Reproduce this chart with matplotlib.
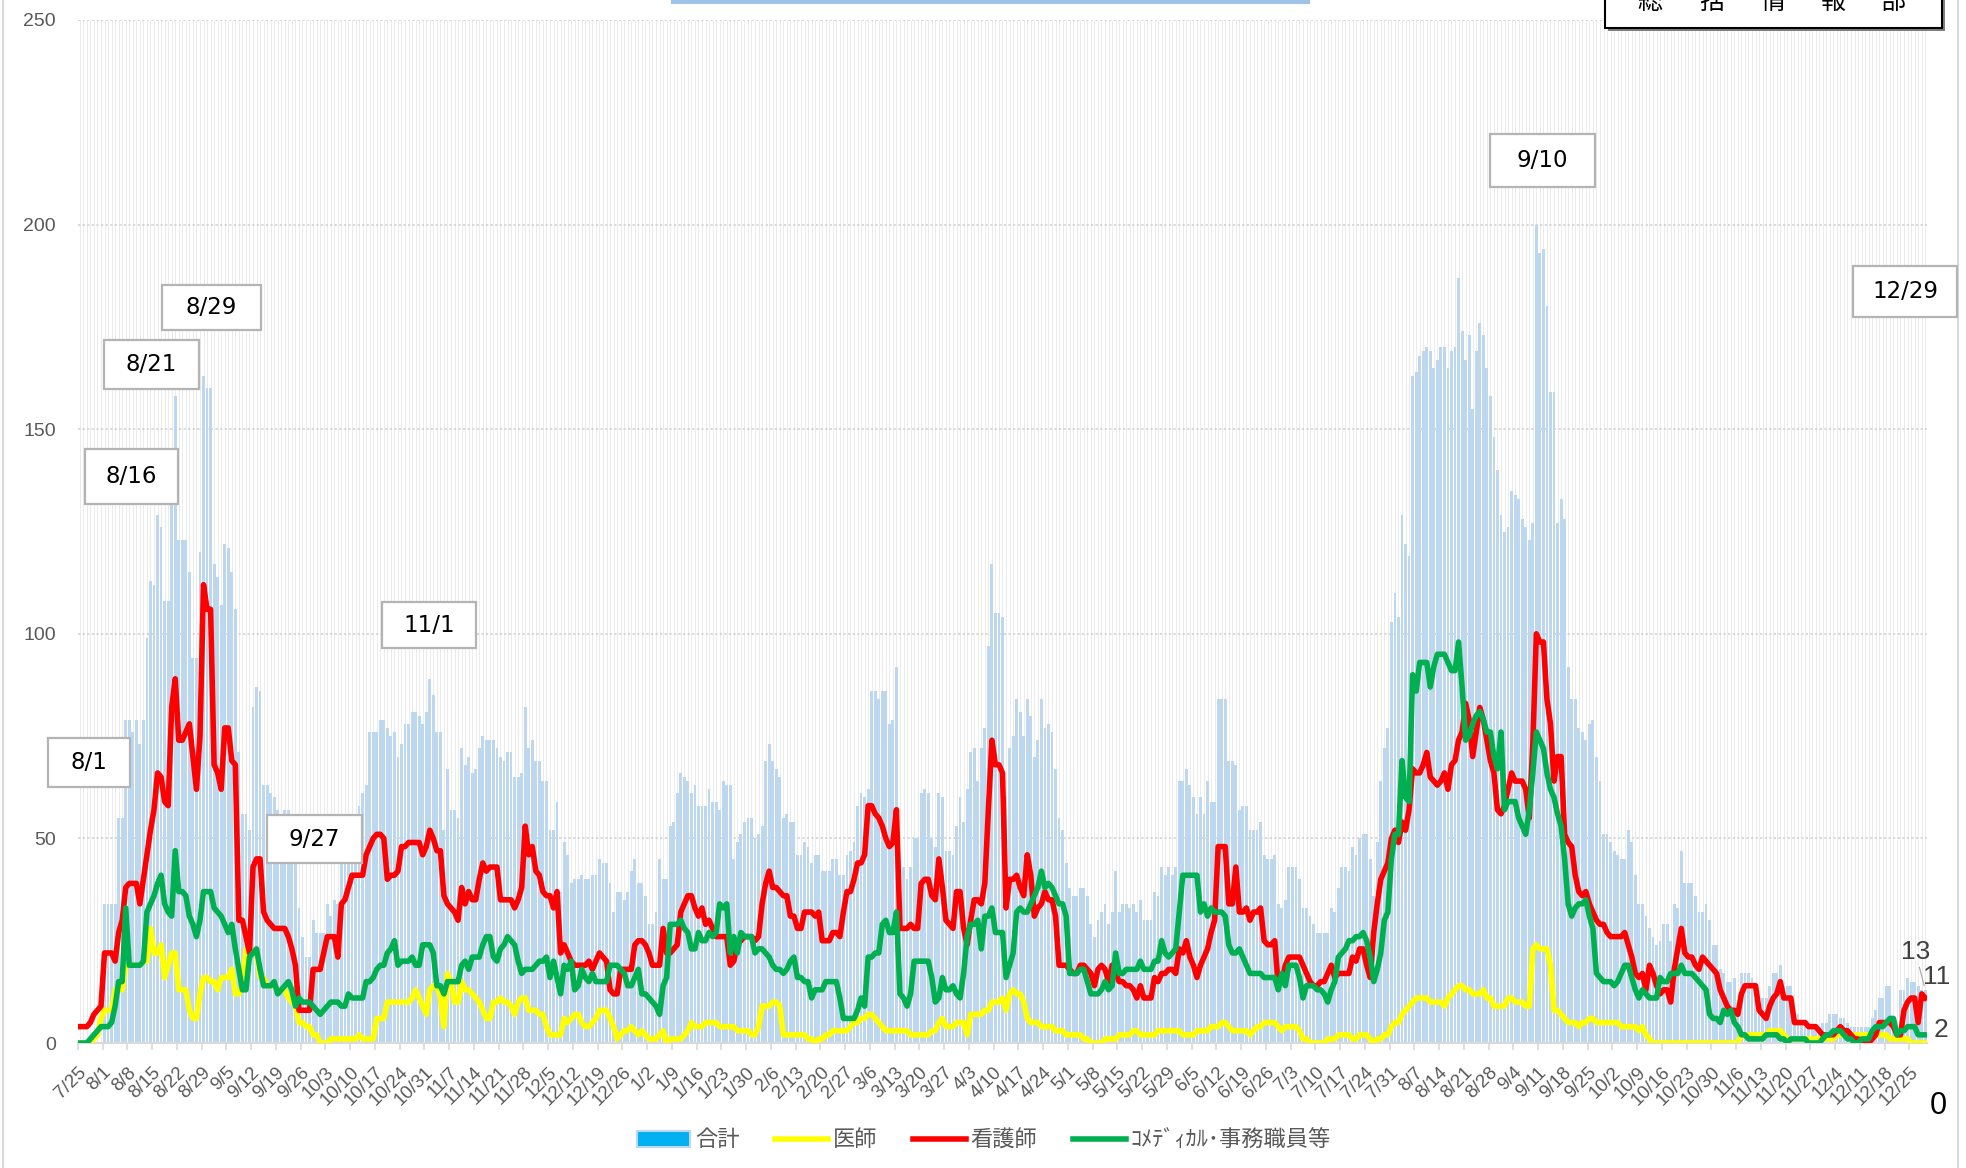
import numpy as np
import matplotlib
matplotlib.use('Agg')
import matplotlib.pyplot as plt

from matplotlib.lines import Line2D
from matplotlib.patches import Patch, Rectangle

plt.rcParams['font.family'] = ['Liberation Sans', 'Noto Sans CJK JP', 'DejaVu Sans']

# daily counts from 7/25 (one row per week)
total = [
    0, 0, 0, 0, 0, 0, 0,
    34, 34, 34, 34, 55, 55, 79,
    79, 76, 79, 73, 79, 99, 113,
    112, 129, 126, 108, 108, 132, 158,
    123, 123, 123, 115, 94, 94, 120,
    163, 160, 160, 117, 114, 107, 122,
    121, 115, 106, 71, 56, 56, 52,
    82, 87, 86, 63, 63, 61, 60,
    57, 56, 57, 57, 53, 47, 33,
    26, 21, 21, 30, 27, 27, 27,
    34, 31, 35, 34, 47, 47, 45,
    45, 53, 58, 61, 63, 76, 76,
    76, 79, 79, 77, 75, 76, 70,
    73, 78, 78, 81, 81, 80, 78,
    81, 89, 85, 76, 76, 52, 67,
    57, 57, 55, 72, 68, 70, 66,
    67, 72, 75, 74, 74, 74, 72,
    70, 69, 71, 71, 65, 65, 66,
    82, 72, 74, 69, 69, 64, 64,
    52, 52, 59, 37, 49, 46, 39,
    40, 40, 41, 40, 40, 41, 41,
    45, 44, 44, 39, 32, 37, 37,
    35, 37, 42, 45, 39, 39, 36,
    29, 29, 32, 45, 40, 40, 53,
    54, 61, 66, 65, 64, 61, 63,
    58, 58, 58, 62, 59, 59, 57,
    64, 63, 63, 45, 49, 51, 54,
    55, 55, 50, 51, 53, 69, 73,
    69, 67, 65, 55, 56, 54, 54,
    46, 46, 49, 48, 44, 46, 46,
    42, 42, 42, 45, 45, 41, 41,
    46, 47, 49, 58, 61, 60, 62,
    86, 86, 84, 86, 86, 78, 79,
    92, 45, 43, 40, 43, 50, 50,
    61, 62, 61, 50, 48, 61, 60,
    47, 47, 46, 53, 60, 54, 62,
    71, 72, 64, 72, 77, 97, 117,
    105, 105, 104, 60, 72, 75, 84,
    81, 75, 84, 80, 70, 74, 84,
    77, 78, 76, 67, 55, 52, 44,
    38, 36, 36, 38, 38, 36, 29,
    26, 30, 32, 34, 29, 32, 42,
    32, 34, 34, 33, 34, 32, 35,
    30, 30, 30, 37, 36, 43, 41,
    43, 41, 43, 64, 64, 67, 63,
    60, 56, 60, 56, 64, 59, 59,
    84, 84, 84, 69, 69, 68, 57,
    58, 58, 52, 52, 52, 54, 46,
    45, 45, 46, 34, 33, 35, 43,
    43, 43, 40, 33, 33, 31, 29,
    27, 27, 27, 27, 33, 32, 38,
    43, 43, 42, 48, 46, 50, 51,
    51, 45, 36, 49, 64, 72, 77,
    103, 110, 104, 129, 122, 119, 163,
    164, 168, 169, 170, 169, 165, 167,
    170, 170, 165, 169, 170, 187, 174,
    167, 173, 155, 169, 176, 173, 165,
    158, 148, 140, 129, 125, 126, 135,
    134, 133, 128, 126, 123, 127, 200,
    193, 194, 180, 159, 159, 127, 133,
    128, 92, 84, 84, 77, 76, 74,
    78, 79, 70, 64, 51, 51, 49,
    47, 46, 45, 45, 52, 49, 41,
    34, 34, 31, 28, 26, 24, 25,
    29, 29, 25, 34, 33, 47, 39,
    39, 39, 36, 32, 32, 34, 30,
    24, 24, 18, 17, 15, 15, 16,
    8, 17, 17, 17, 16, 11, 11,
    11, 11, 14, 17, 17, 19, 14,
    14, 14, 7, 7, 5, 4, 4,
    4, 4, 4, 5, 5, 7, 7,
    7, 6, 6, 5, 4, 4, 4,
    4, 4, 4, 6, 8, 11, 11,
    14, 14, 4, 4, 13, 13, 16,
    15, 15, 14, 13, 13,
]

doctor = [
    0, 0, 0, 0, 1, 2, 6,
    8, 8, 8, 13, 13, 13, 19,
    19, 19, 19, 19, 20, 20, 28,
    22, 22, 24, 16, 19, 22, 22,
    13, 13, 13, 8, 6, 6, 12,
    16, 16, 15, 15, 13, 16, 16,
    16, 18, 12, 12, 14, 23, 23,
    22, 22, 16, 16, 14, 14, 14,
    13, 13, 13, 11, 10, 9, 5,
    5, 4, 4, 2, 2, 0, 0,
    0, 1, 1, 1, 1, 1, 1,
    1, 1, 2, 1, 1, 1, 1,
    6, 6, 6, 10, 10, 10, 10,
    10, 10, 10, 11, 13, 11, 9,
    7, 13, 14, 14, 11, 4, 17,
    15, 10, 10, 15, 13, 13, 12,
    11, 10, 8, 6, 6, 10, 10,
    11, 10, 10, 9, 7, 10, 11,
    11, 8, 8, 8, 7, 7, 4,
    2, 2, 2, 2, 6, 5, 6,
    7, 7, 5, 4, 4, 5, 6,
    8, 8, 8, 6, 4, 1, 2,
    3, 3, 4, 3, 2, 3, 2,
    1, 1, 1, 2, 3, 0, 1,
    1, 1, 1, 2, 3, 5, 4,
    4, 4, 5, 5, 5, 5, 4,
    4, 4, 4, 4, 3, 3, 3,
    3, 2, 2, 4, 9, 9, 9,
    10, 10, 9, 2, 2, 2, 2,
    2, 2, 2, 1, 1, 0, 1,
    1, 2, 2, 3, 3, 3, 3,
    3, 4, 5, 5, 6, 6, 7,
    7, 6, 5, 4, 3, 3, 3,
    3, 3, 3, 3, 2, 2, 2,
    2, 2, 2, 3, 3, 5, 6,
    4, 4, 4, 5, 5, 5, 2,
    7, 7, 7, 7, 8, 8, 10,
    10, 10, 11, 8, 12, 13, 12,
    12, 10, 6, 5, 5, 5, 4,
    4, 4, 4, 3, 3, 3, 2,
    2, 2, 2, 2, 1, 1, 0,
    0, 0, 0, 1, 1, 1, 1,
    2, 2, 2, 2, 3, 3, 2,
    2, 2, 2, 2, 3, 3, 3,
    3, 3, 3, 3, 2, 2, 2,
    2, 3, 3, 3, 3, 4, 4,
    4, 5, 5, 4, 3, 3, 3,
    3, 3, 2, 3, 4, 4, 5,
    5, 5, 5, 4, 3, 4, 4,
    4, 4, 3, 1, 1, 0, 0,
    0, 0, 0, 1, 1, 1, 2,
    2, 2, 2, 1, 1, 2, 2,
    2, 1, 0, 1, 1, 2, 2,
    4, 5, 5, 7, 8, 9, 10,
    11, 11, 11, 11, 10, 10, 10,
    10, 9, 11, 12, 13, 14, 14,
    13, 13, 12, 12, 12, 13, 11,
    11, 9, 9, 9, 9, 11, 11,
    10, 10, 10, 9, 9, 23, 24,
    23, 23, 23, 19, 8, 8, 7,
    6, 5, 5, 5, 4, 5, 5,
    6, 6, 5, 5, 5, 5, 5,
    5, 5, 4, 4, 4, 4, 4,
    3, 4, 2, 1, 0, 0, 0,
    0, 0, 0, 0, 0, 0, 0,
    0, 0, 0, 0, 0, 0, 0,
    0, 0, 0, 0, 0, 0, 0,
    0, 2, 2, 2, 2, 2, 2,
    2, 2, 3, 3, 3, 3, 2,
    1, 1, 1, 1, 1, 1, 1,
    1, 1, 1, 1, 1, 1, 1,
    2, 2, 2, 2, 2, 2, 2,
    2, 2, 2, 2, 2, 2, 2,
    2, 1, 1, 1, 1, 1, 1,
    0, 0, 0, 0, 0,
]

nurse = [
    4, 4, 4, 5, 7, 8, 9,
    22, 22, 22, 20, 27, 30, 38,
    39, 39, 39, 34, 40, 46, 52,
    57, 66, 65, 59, 58, 82, 89,
    74, 74, 76, 78, 70, 62, 75,
    112, 106, 106, 68, 66, 62, 77,
    77, 69, 68, 30, 30, 26, 22,
    43, 45, 45, 32, 30, 29, 28,
    28, 28, 28, 26, 23, 19, 8,
    8, 8, 8, 18, 18, 18, 22,
    26, 26, 26, 21, 34, 35, 38,
    41, 41, 41, 41, 46, 48, 50,
    51, 51, 50, 40, 41, 41, 42,
    48, 48, 49, 49, 49, 49, 46,
    48, 52, 50, 47, 47, 36, 34,
    33, 32, 30, 38, 34, 37, 35,
    35, 40, 44, 42, 43, 43, 43,
    35, 35, 35, 35, 33, 35, 38,
    53, 46, 48, 42, 41, 37, 36,
    36, 33, 37, 22, 24, 22, 20,
    19, 19, 19, 19, 20, 18, 20,
    22, 21, 20, 13, 12, 12, 18,
    18, 18, 18, 24, 25, 25, 24,
    22, 19, 19, 19, 28, 22, 22,
    23, 24, 32, 34, 36, 36, 33,
    31, 33, 29, 30, 28, 26, 26,
    26, 26, 19, 20, 24, 25, 26,
    26, 26, 25, 26, 34, 39, 42,
    38, 38, 37, 36, 36, 31, 31,
    28, 28, 32, 32, 32, 31, 32,
    25, 25, 25, 27, 27, 26, 32,
    37, 37, 40, 44, 44, 46, 58,
    58, 56, 55, 53, 50, 48, 49,
    57, 28, 28, 28, 29, 28, 28,
    39, 40, 40, 36, 35, 45, 38,
    30, 29, 28, 37, 37, 28, 24,
    30, 35, 35, 34, 39, 57, 74,
    68, 68, 66, 33, 40, 40, 41,
    38, 36, 46, 41, 31, 33, 34,
    37, 35, 35, 31, 19, 19, 19,
    18, 17, 17, 19, 19, 18, 17,
    14, 18, 19, 18, 15, 19, 17,
    15, 15, 14, 14, 13, 11, 14,
    11, 11, 11, 16, 15, 17, 17,
    18, 18, 17, 23, 22, 25, 21,
    19, 16, 19, 21, 23, 27, 30,
    48, 48, 48, 34, 34, 43, 32,
    32, 33, 30, 32, 32, 33, 25,
    24, 24, 25, 14, 15, 19, 21,
    21, 21, 21, 19, 17, 15, 14,
    14, 15, 15, 17, 19, 16, 17,
    17, 17, 17, 21, 20, 23, 23,
    19, 16, 27, 34, 40, 42, 44,
    50, 52, 49, 54, 52, 57, 67,
    66, 66, 68, 71, 65, 64, 63,
    64, 66, 62, 68, 69, 74, 76,
    83, 79, 70, 76, 82, 79, 74,
    69, 66, 57, 56, 58, 62, 66,
    64, 64, 64, 62, 55, 73, 100,
    98, 98, 84, 78, 64, 70, 70,
    51, 49, 48, 41, 37, 36, 37,
    34, 32, 30, 29, 29, 27, 26,
    26, 26, 26, 27, 24, 21, 17,
    16, 17, 13, 19, 17, 14, 12,
    13, 13, 10, 18, 23, 28, 22,
    21, 21, 19, 18, 21, 20, 19,
    18, 17, 13, 11, 9, 8, 8,
    7, 12, 14, 14, 14, 14, 8,
    7, 6, 9, 11, 12, 15, 11,
    11, 11, 5, 5, 5, 5, 4,
    4, 4, 3, 2, 2, 2, 2,
    3, 4, 3, 3, 2, 1, 1,
    0, 0, 0, 1, 2, 5, 5,
    5, 5, 4, 2, 2, 8, 10,
    11, 11, 5, 12, 11,
]

comedical = [
    0, 0, 0, 1, 2, 3, 4,
    4, 4, 5, 9, 15, 15, 33,
    19, 19, 19, 19, 20, 32, 34,
    36, 39, 41, 34, 32, 31, 47,
    37, 37, 36, 31, 29, 26, 30,
    37, 37, 37, 33, 32, 31, 29,
    27, 29, 23, 18, 13, 13, 21,
    22, 23, 18, 14, 14, 14, 15,
    12, 13, 14, 15, 13, 9, 11,
    10, 10, 10, 9, 8, 7, 8,
    9, 10, 10, 10, 9, 9, 12,
    11, 11, 11, 11, 15, 15, 16,
    18, 19, 19, 22, 23, 25, 19,
    20, 20, 20, 21, 19, 19, 24,
    24, 24, 22, 14, 14, 12, 15,
    15, 15, 15, 19, 20, 18, 21,
    21, 21, 24, 26, 26, 21, 20,
    23, 24, 26, 25, 24, 20, 17,
    18, 18, 18, 19, 20, 20, 21,
    16, 20, 16, 12, 19, 18, 20,
    13, 14, 18, 16, 15, 17, 15,
    15, 15, 15, 19, 19, 19, 18,
    17, 14, 14, 16, 18, 12, 12,
    11, 10, 9, 7, 14, 16, 29,
    29, 29, 30, 28, 27, 23, 23,
    27, 25, 25, 27, 26, 27, 34,
    33, 34, 22, 26, 22, 27, 26,
    26, 26, 22, 23, 23, 22, 21,
    19, 18, 18, 17, 18, 20, 21,
    16, 16, 15, 15, 11, 13, 13,
    13, 15, 15, 15, 15, 11, 6,
    6, 6, 6, 8, 11, 9, 21,
    21, 22, 22, 29, 30, 27, 27,
    32, 12, 11, 9, 12, 20, 20,
    20, 20, 20, 16, 10, 11, 16,
    13, 13, 14, 12, 11, 17, 26,
    29, 29, 30, 23, 31, 31, 33,
    27, 27, 27, 16, 19, 22, 32,
    33, 32, 32, 34, 36, 38, 42,
    38, 39, 38, 36, 34, 34, 31,
    17, 17, 17, 18, 18, 15, 12,
    12, 12, 13, 15, 13, 14, 22,
    17, 17, 18, 18, 18, 18, 20,
    18, 18, 18, 20, 20, 25, 22,
    21, 22, 23, 32, 41, 41, 41,
    41, 41, 32, 34, 31, 33, 32,
    32, 32, 31, 24, 22, 22, 23,
    21, 19, 17, 17, 17, 17, 16,
    16, 16, 16, 13, 17, 14, 19,
    19, 19, 16, 11, 14, 14, 14,
    13, 13, 12, 10, 13, 15, 21,
    22, 23, 25, 25, 26, 26, 27,
    25, 21, 15, 18, 22, 30, 32,
    45, 51, 51, 69, 60, 59, 90,
    86, 93, 93, 93, 87, 92, 95,
    95, 95, 93, 91, 91, 98, 87,
    74, 75, 78, 80, 81, 79, 76,
    76, 70, 67, 76, 57, 59, 59,
    59, 55, 53, 51, 57, 66, 76,
    74, 72, 66, 62, 60, 56, 53,
    45, 34, 31, 33, 34, 34, 35,
    31, 28, 17, 16, 15, 15, 15,
    14, 15, 17, 19, 19, 16, 13,
    11, 13, 12, 11, 11, 11, 16,
    15, 15, 17, 17, 17, 19, 17,
    17, 17, 16, 15, 14, 13, 7,
    6, 6, 5, 8, 7, 8, 5,
    4, 2, 2, 1, 1, 1, 1,
    1, 2, 2, 2, 2, 1, 1,
    0, 1, 1, 1, 1, 1, 0,
    0, 0, 0, 1, 2, 2, 3,
    3, 3, 2, 1, 1, 0, 0,
    1, 1, 1, 3, 4, 4, 4,
    5, 6, 6, 2, 3, 3, 4,
    4, 4, 2, 2, 2,
]

week_labels = [
    '7/25', '8/1', '8/8', '8/15', '8/22', '8/29', '9/5', '9/12', '9/19', '9/26',
    '10/3', '10/10', '10/17', '10/24', '10/31', '11/7', '11/14', '11/21', '11/28',
    '12/5', '12/12', '12/19', '12/26', '1/2', '1/9', '1/16', '1/23', '1/30',
    '2/6', '2/13', '2/20', '2/27', '3/6', '3/13', '3/20', '3/27', '4/3', '4/10',
    '4/17', '4/24', '5/1', '5/8', '5/15', '5/22', '5/29', '6/5', '6/12', '6/19',
    '6/26', '7/3', '7/10', '7/17', '7/24', '7/31', '8/7', '8/14', '8/21', '8/28',
    '9/4', '9/11', '9/18', '9/25', '10/2', '10/9', '10/16', '10/23', '10/30',
    '11/6', '11/13', '11/20', '11/27', '12/4', '12/11', '12/18', '12/25',
]

series_names = ['合計', '医師', '看護師', 'ｺﾒﾃﾞｨｶﾙ･事務職員等']

# callout boxes (label, left, top, right, bottom in pixels of the image)
callouts = [
    ('8/1', 48, 738, 130, 787),
    ('8/16', 85, 449, 178, 504),
    ('8/21', 104, 340, 199, 389),
    ('8/29', 162, 285, 261, 330),
    ('9/27', 267, 815, 362, 863),
    ('11/1', 382, 602, 476, 648),
    ('9/10', 1490, 134, 1595, 187),
    ('12/29', 1853, 266, 1957, 317),
]

W, H = 1966, 1168
BAR = '#BDD7EE'
YELLOW, RED, GREEN = '#FFFF00', '#FF0000', '#00B050'
GRAY_TXT = '#595959'
LW = 4.0


def fx(px): return px / W
def fy(py): return 1 - py / H


fig = plt.figure(figsize=(W / 100, H / 100), dpi=100)
ax = fig.add_axes([fx(78), fy(1043), fx(1927) - fx(78), fy(20) - fy(1043)])

x = np.arange(len(total))

# faint vertical stripe for every day, dotted horizontal grid
ax.vlines(x, 0, 250, colors='#ebebeb', linewidth=0.7, zorder=0)
ax.set_axisbelow(True)
ax.yaxis.grid(True, color='#cfcfcf', linestyle=(0, (1.5, 1.5)), linewidth=1.1)

ax.bar(x, total, width=0.8, color=BAR, linewidth=0, zorder=1)
ax.plot(np.arange(len(doctor)), doctor, color=YELLOW, lw=LW, zorder=3, solid_joinstyle='round')
ax.plot(np.arange(len(nurse)), nurse, color=RED, lw=LW, zorder=4, solid_joinstyle='round')
ax.plot(np.arange(len(comedical)), comedical, color=GREEN, lw=LW, zorder=5, solid_joinstyle='round')

ax.set_xlim(-0.5, len(total) - 0.5)
ax.set_ylim(0, 250)

for side in ('left', 'right', 'top'):
    ax.spines[side].set_visible(False)
ax.spines['bottom'].set_color('#d9d9d9')
ax.spines['bottom'].set_linewidth(1.5)

ax.set_xticks(np.arange(0, len(total), 7)[:len(week_labels)] - 0.5)
ax.set_xticklabels(week_labels)
ax.tick_params(axis='x', length=5, width=1.2, color='#d9d9d9', pad=10, labelsize=13.5, labelcolor=GRAY_TXT)
for lbl in ax.get_xticklabels():
    lbl.set_rotation(45)
    lbl.set_ha('right')
    lbl.set_va('top')
    lbl.set_rotation_mode('anchor')

ax.set_yticks(range(0, 251, 50))
ax.tick_params(axis='y', length=0, pad=16, labelsize=14, labelcolor=GRAY_TXT)

# last-day value labels
last = len(total) - 1
ax.annotate(str(total[-1]), xy=(last, total[-1]), xytext=(-7, 27), textcoords='offset points',
            ha='center', va='center', fontsize=19, color='#404040', annotation_clip=False,
            arrowprops=dict(arrowstyle='-', color='#a6a6a6', lw=0.8, shrinkA=0, shrinkB=3))
ax.annotate(str(nurse[-1]), xy=(last, nurse[-1]), xytext=(8, 15), textcoords='offset points',
            ha='center', va='center', fontsize=19, color='#404040', annotation_clip=False)
ax.annotate(str(comedical[-1]), xy=(last, comedical[-1]), xytext=(11.5, 3.5), textcoords='offset points',
            ha='center', va='center', fontsize=19, color='#404040', annotation_clip=False)
ax.annotate(str(doctor[-1]), xy=(last, doctor[-1]), xytext=(9.5, -45.5), textcoords='offset points',
            ha='center', va='center', fontsize=22, color='black', annotation_clip=False)

# date callouts
for label, x0, y0, x1, y1 in callouts:
    fig.add_artist(Rectangle((fx(x0), fy(y1)), fx(x1) - fx(x0), fy(y0) - fy(y1), transform=fig.transFigure,
                             facecolor='white', edgecolor='#b4b4b4', linewidth=1.6, zorder=5))
    fig.text(fx((x0 + x1) / 2), fy((y0 + y1) / 2), label, ha='center', va='center',
             fontsize=16.5, family='DejaVu Sans', color='black', zorder=6)

# bits of the surrounding slide: title bar, department box (cut by the top edge), chart frame
fig.add_artist(Rectangle((fx(671), fy(4)), fx(1310) - fx(671), 10 / H, transform=fig.transFigure,
                         facecolor='#9DC3E6', edgecolor='none', zorder=5))
fig.add_artist(Rectangle((fx(1608), fy(31)), fx(1945) - fx(1608), 60 / H, transform=fig.transFigure,
                         facecolor='#7f7f7f', edgecolor='none', zorder=5))
fig.add_artist(Rectangle((fx(1605), fy(28)), fx(1942) - fx(1605), 60 / H, transform=fig.transFigure,
                         facecolor='white', edgecolor='black', linewidth=1.5, zorder=6))
for ch, px in zip('総括情報部', (1650, 1712, 1773, 1833, 1893)):
    fig.text(fx(px), fy(2), ch, ha='center', va='center', fontsize=18,
             family=['Noto Sans CJK JP', 'DejaVu Sans'], color='black', zorder=7)

for px in (3, 1958):
    fig.add_artist(Line2D([fx(px), fx(px)], [0, 1], color='#d9d9d9', linewidth=1.5, zorder=4))

handles = [
    Patch(facecolor='#00B0F0', edgecolor=BAR, linewidth=1.5),
    Line2D([], [], color=YELLOW, lw=LW),
    Line2D([], [], color=RED, lw=LW),
    Line2D([], [], color=GREEN, lw=LW),
]
fig.legend(handles, series_names, loc='center', bbox_to_anchor=(fx(984), fy(1140)), ncol=4, frameon=False,
           prop={'family': ['Noto Sans CJK JP', 'DejaVu Sans'], 'size': 16}, labelcolor=GRAY_TXT,
           handlelength=2.4, handletextpad=0.2, columnspacing=1.6)

fig.savefig('out.png', dpi=100)
